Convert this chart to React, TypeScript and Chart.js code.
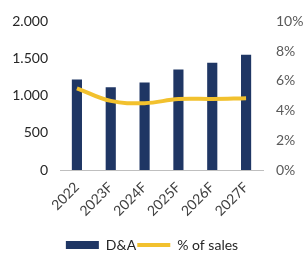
import React, { useEffect, useRef } from "react";
import { Chart, registerables } from "chart.js";

Chart.register(...registerables);

const categories = ["2022", "2023F", "2024F", "2025F", "2026F", "2027F"];
const daValues = [1219, 1113, 1179, 1351, 1444, 1550];
const pctSales = [5.5, 4.65, 4.5, 4.77, 4.78, 4.83];
const leftTicks = [0, 500, 1000, 1500, 2000];
const rightTicks = [0, 2, 4, 6, 8, 10];

const NAVY = "#1F3664";
const YELLOW = "#F2C12E";
const FONT = "Lato, 'Open Sans', sans-serif";

export default function App() {
  const ref = useRef<HTMLCanvasElement>(null);
  useEffect(() => {
    if (!ref.current) return;
    const chart = new Chart(ref.current, {
      type: "bar",
      data: {
        labels: categories,
        datasets: [
          {
            type: "line",
            label: "% of sales",
            data: pctSales,
            yAxisID: "y1",
            borderColor: YELLOW,
            backgroundColor: YELLOW,
            borderWidth: 4,
            pointRadius: 0,
            tension: 0.4,
            pointStyle: "line",
            order: 0,
          } as any,
          {
            type: "bar",
            label: "D&A",
            data: daValues,
            yAxisID: "y",
            backgroundColor: NAVY,
            barPercentage: 0.6,
            categoryPercentage: 0.5,
            pointStyle: "rect",
            order: 1,
          } as any,
        ],
      },
      options: {
        animation: false,
        responsive: true,
        maintainAspectRatio: false,
        layout: { padding: { left: 0, right: 0, top: 8, bottom: -9 } },
        plugins: {
          tooltip: { enabled: false },
          legend: {
            position: "bottom",
            reverse: true,
            labels: {
              usePointStyle: true,
              pointStyleWidth: 33,
              boxHeight: 8,
              padding: 1,
              color: "#262626",
              font: { family: FONT, size: 14 },
            },
          },
        },
        scales: {
          x: {
            grid: { display: false, drawTicks: false },
            border: { display: true, color: "#BFBFBF", width: 1 },
            afterFit: (s: any) => {
              s.height = 67;
            },
            ticks: {
              color: "#404040",
              font: { family: FONT, size: 14 },
              maxRotation: 45,
              minRotation: 45,
              padding: 9,
            },
          },
          y: {
            position: "left",
            min: 0,
            max: 2000,
            afterBuildTicks: (s: any) => {
              s.ticks = leftTicks.map((v) => ({ value: v }));
            },
            afterFit: (s: any) => {
              s.width = 60;
            },
            grid: { display: false, drawTicks: false },
            border: { display: false },
            ticks: {
              color: "#262626",
              padding: 12,
              font: { family: FONT, size: 14 },
              callback: (v: any) => Number(v).toLocaleString("de-DE"),
            },
          },
          y1: {
            position: "right",
            min: 0,
            max: 10,
            afterBuildTicks: (s: any) => {
              s.ticks = rightTicks.map((v) => ({ value: v }));
            },
            afterFit: (s: any) => {
              s.width = 41;
            },
            grid: { display: false, drawTicks: false },
            border: { display: false },
            ticks: {
              color: "#595959",
              padding: 13,
              font: { family: FONT, size: 14 },
              callback: (v: any) => v + "%",
            },
          },
        },
      },
    });
    return () => chart.destroy();
  }, []);
  return (
    <div style={{ position: "absolute", left: 0, top: 0, width: 304, height: 253 }}>
      <canvas ref={ref} />
    </div>
  );
}
